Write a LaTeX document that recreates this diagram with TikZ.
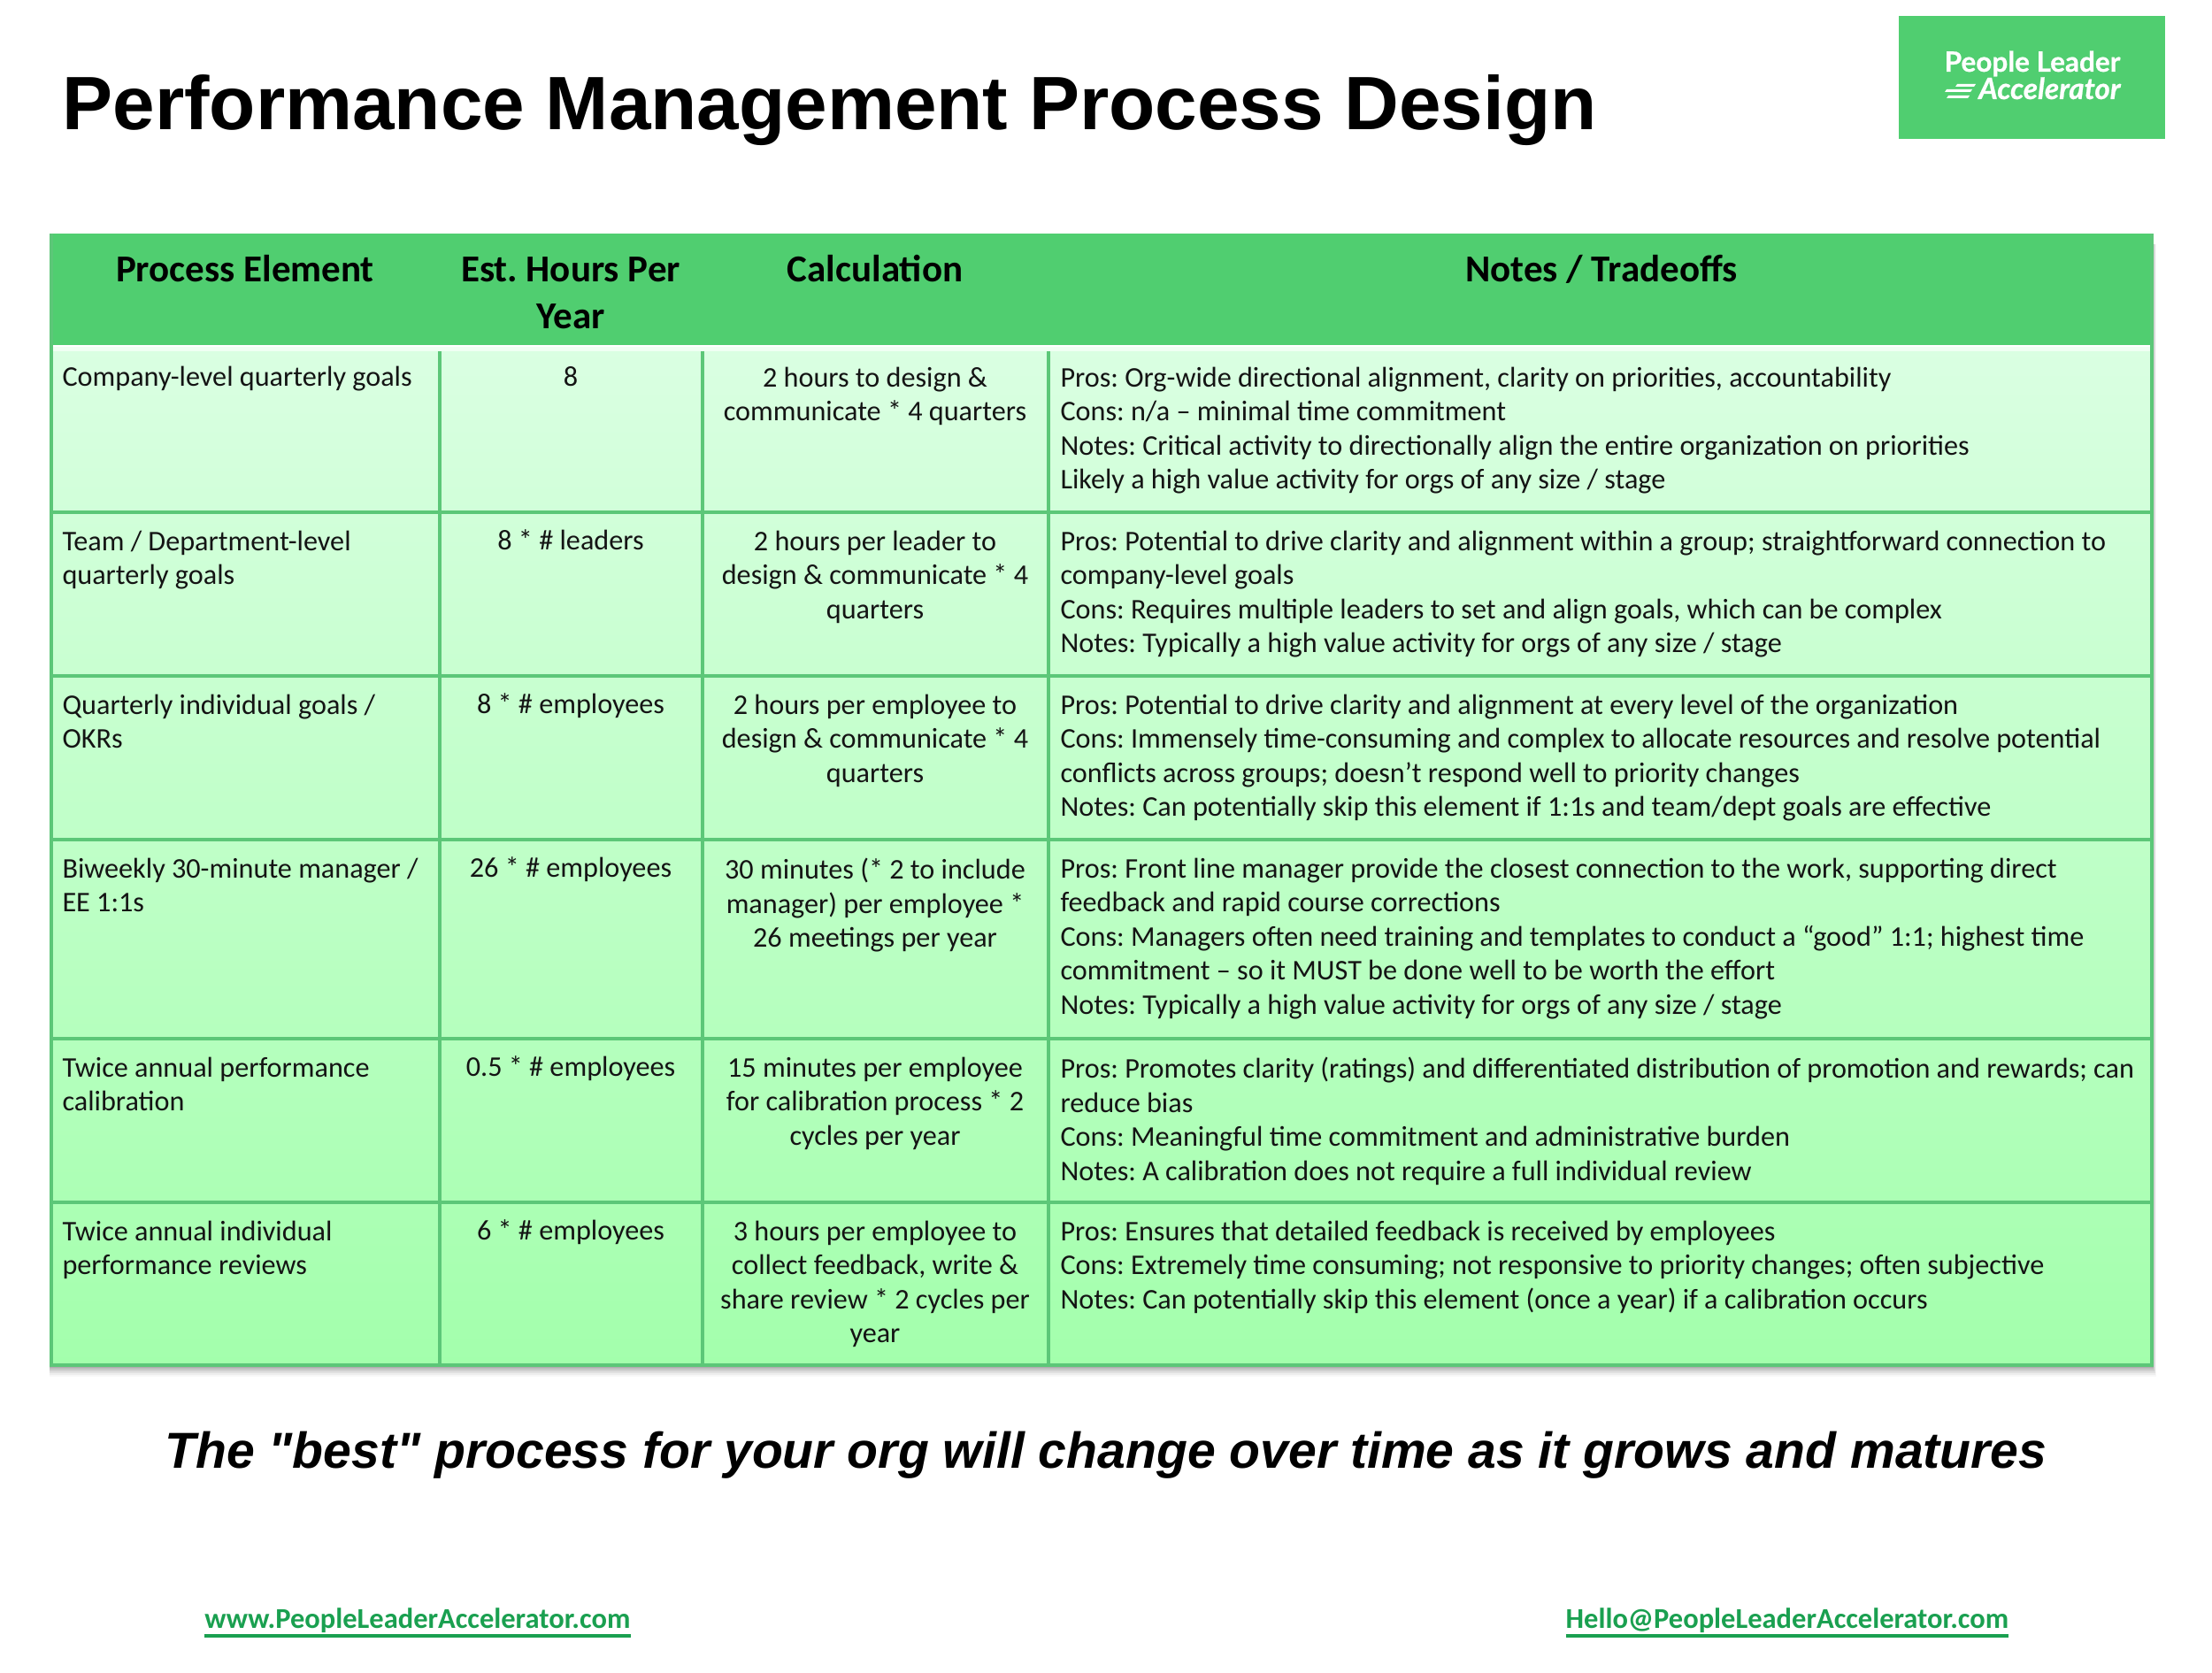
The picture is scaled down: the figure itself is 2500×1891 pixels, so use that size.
\documentclass[tikz,border=0pt]{standalone}
\usepackage{fontspec}
\setmainfont{Carlito}
\newfontfamily\arialf{Liberation Sans}
\newfontfamily\logof[FakeBold=0.7]{Lato}
\AtBeginDocument{\frenchspacing}
\newcommand{\ulk}[1]{\vtop{\hbox{#1}\kern0.9pt\hrule height 1.3pt}}
\tikzset{x=0.4pt,y=-0.4pt,
  cellt/.style={inner sep=0pt,execute at begin node=\strut,text=black!92,font=\fontsize{12.88}{15.4}\selectfont},
  lcell/.style={cellt,anchor=north west,align=left,yshift=-1.0pt},
  ccell/.style={cellt,anchor=north,align=center,yshift=-1.0pt},
  onel/.style={cellt,anchor=north west,yshift=1pt},
  onec/.style={cellt,anchor=north,yshift=1pt},
  head/.style={inner sep=0pt,anchor=north,align=center,execute at begin node=\strut,font=\fontsize{17.2}{21}\selectfont\bfseries},
  grid/.style={draw=gridg,line width=1.7pt},
  lnk/.style={inner sep=0pt,anchor=base,text=linkg,font=\fontsize{13}{16}\selectfont\bfseries}}
\definecolor{headg}{HTML}{50CE70}
\definecolor{gridg}{HTML}{5CC778}
\definecolor{toprow}{HTML}{DAFFE2}
\definecolor{botrow}{HTML}{A3FFAC}
\definecolor{linkg}{HTML}{1AA050}
\begin{document}
\begin{tikzpicture}
\useasboundingbox (0,0) rectangle (2500,1891);
\fill[white] (0,0) rectangle (2500,1891);
% shadow
\foreach \d/\e/\o in {12/4/0.03,10/3/0.04,8/3/0.05,6/2/0.07,4/1/0.08,2/1/0.10}{
  \fill[black,opacity=\o] (56,1540) rectangle (2433+\e,1544+\d);
  \fill[black,opacity=\o] (2433,276) rectangle (2433+\e,1540);
}
% body and header
\shade[top color=toprow,bottom color=botrow] (56,393) rectangle (2433,1544);
\fill[headg] (56,264) rectangle (2433,390);
\fill[white,opacity=0.6] (60,390) rectangle (2430,397);
% grid
\foreach \y in {579,764,949,1174,1359}{\draw[grid] (56,\y) -- (2433,\y);}
\foreach \x in {497,794,1185}{\draw[grid] (\x,397) -- (\x,1544);}
\draw[grid] (58,264) -- (58,1543) -- (2432,1543) -- (2432,264);
% title
\node[inner sep=0pt,anchor=base west,font=\arialf\fontsize{34.2}{38}\selectfont\bfseries] (title) at (70,147) {Performance Management Process Design};
% logo
\fill[headg] (2146,18) rectangle (2447,157);
\node[inner sep=0pt,anchor=base,text=white,font=\logof\fontsize{12.6}{14}\selectfont\bfseries] (logo1) at (2297,81) {People Leader};
\node[inner sep=0pt,anchor=base east,text=white,font=\logof\fontsize{13.3}{15}\selectfont\bfseries\itshape] (logo2) at (2397,112) {Accelerator};
\fill[white] (2212,95) -- (2233,95) -- (2231,98) -- (2210,98) -- cycle;
\fill[white] (2200,101) -- (2229,101) -- (2227,104) -- (2198,104) -- cycle;
\fill[white] (2202,108) -- (2226,108) -- (2224,111) -- (2200,111) -- cycle;
% header
\node[head] (h1) at (277,281) {Process Element};
\node[head,yshift=-3.8pt] (h2) at (645,281) {Est. Hours Per\\Year};
\node[head] (h3) at (989,281) {Calculation};
\node[head] (h4) at (1810,281) {Notes / Tradeoffs};
% row 1
\node[onel] (a1) at (70,412) {Company-level quarterly goals};
\node[onec] (b1) at (645,412) {8};
\node[ccell] (c1) at (989,412) {2 hours to design \&\\communicate * 4 quarters};
\node[lcell] (d1) at (1198,412) {Pros: Org-wide directional alignment, clarity on priorities, accountability\\Cons: n/a – minimal time commitment\\Notes: Critical activity to directionally align the entire organization on priorities\\Likely a high value activity for orgs of any size / stage};
% row 2
\node[lcell] (a2) at (70,597) {Team / Department-level\\quarterly goals};
\node[onec] (b2) at (645,597) {8 * \# leaders};
\node[ccell] (c2) at (989,597) {2 hours per leader to\\design \& communicate * 4\\quarters};
\node[lcell] (d2) at (1198,597) {Pros: Potential to drive clarity and alignment within a group; straightforward connection to\\company-level goals\\Cons: Requires multiple leaders to set and align goals, which can be complex\\Notes: Typically a high value activity for orgs of any size / stage};
% row 3
\node[lcell] (a3) at (70,782) {Quarterly individual goals /\\OKRs};
\node[onec] (b3) at (645,782) {8 * \# employees};
\node[ccell] (c3) at (989,782) {2 hours per employee to\\design \& communicate * 4\\quarters};
\node[lcell] (d3) at (1198,782) {Pros: Potential to drive clarity and alignment at every level of the organization\\Cons: Immensely time-consuming and complex to allocate resources and resolve potential\\conflicts across groups; doesn’t respond well to priority changes\\Notes: Can potentially skip this element if 1:1s and team/dept goals are effective};
% row 4
\node[lcell] (a4) at (70,967) {Biweekly 30-minute manager /\\EE 1:1s};
\node[onec] (b4) at (645,967) {26 * \# employees};
\node[ccell] (c4) at (989,967) {30 minutes (* 2 to include\\manager) per employee *\\26 meetings per year};
\node[lcell] (d4) at (1198,967) {Pros: Front line manager provide the closest connection to the work, supporting direct\\feedback and rapid course corrections\\Cons: Managers often need training and templates to conduct a “good” 1:1; highest time\\commitment – so it MUST be done well to be worth the effort\\Notes: Typically a high value activity for orgs of any size / stage};
% row 5
\node[lcell] (a5) at (70,1192) {Twice annual performance\\calibration};
\node[onec] (b5) at (645,1192) {0.5 * \# employees};
\node[ccell] (c5) at (989,1192) {15 minutes per employee\\for calibration process * 2\\cycles per year};
\node[lcell] (d5) at (1198,1192) {Pros: Promotes clarity (ratings) and differentiated distribution of promotion and rewards; can\\reduce bias\\Cons: Meaningful time commitment and administrative burden\\Notes: A calibration does not require a full individual review};
% row 6
\node[lcell] (a6) at (70,1377) {Twice annual individual\\performance reviews};
\node[onec] (b6) at (645,1377) {6 * \# employees};
\node[ccell] (c6) at (989,1377) {3 hours per employee to\\collect feedback, write \&\\share review * 2 cycles per\\year};
\node[lcell] (d6) at (1198,1377) {Pros: Ensures that detailed feedback is received by employees\\Cons: Extremely time consuming; not responsive to priority changes; often subjective\\Notes: Can potentially skip this element (once a year) if a calibration occurs};
% tagline
\node[inner sep=0pt,anchor=base,font=\arialf\fontsize{22.85}{26}\selectfont\bfseries\itshape] (tag) at (1250,1659) {The "best" process for your org will change over time as it grows and matures};
% footer
\node[lnk] (w) at (472,1840) {\ulk{www.PeopleLeaderAccelerator.com}};
\node[lnk] (m) at (2020,1840) {\ulk{Hello@PeopleLeaderAccelerator.com}};
\end{tikzpicture}
\end{document}
